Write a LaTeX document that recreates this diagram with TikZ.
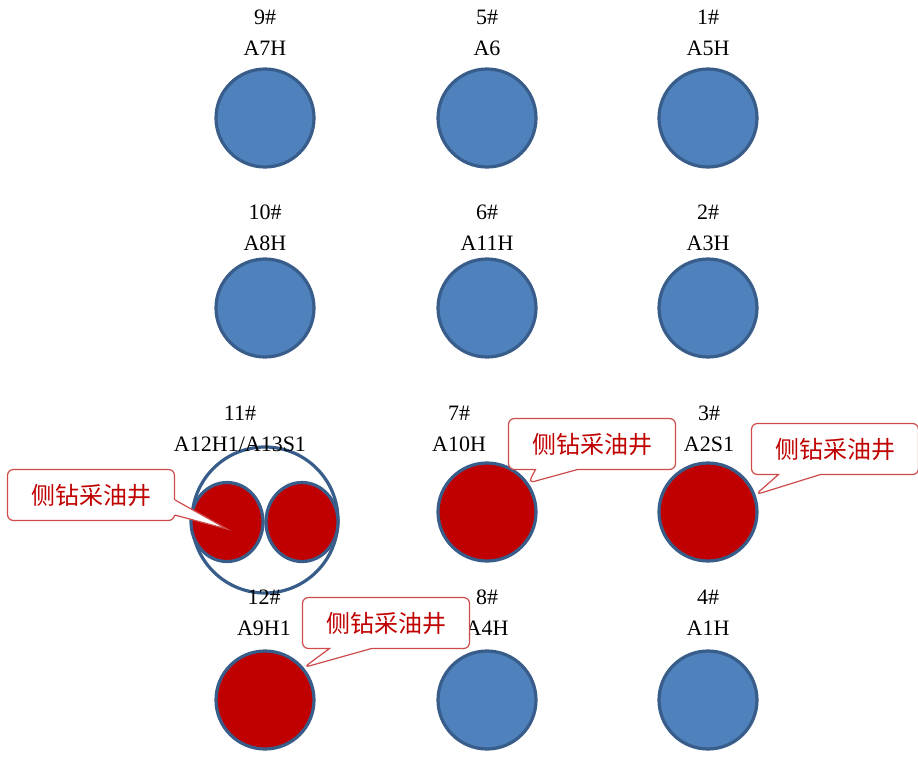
\documentclass[tikz,border=0pt]{standalone}
\usepackage{fontspec}
\setmainfont{Liberation Serif}
\newfontfamily\cjk{Noto Sans CJK SC}
\usetikzlibrary{shapes.geometric,shapes.callouts,calc}
\definecolor{wellblue}{RGB}{79,129,189}
\definecolor{welledge}{RGB}{56,93,138}
\definecolor{wellred}{RGB}{192,0,0}
\definecolor{noteedge}{RGB}{205,75,75}

\begin{document}
\begin{tikzpicture}[x=1pt, y=-1pt,
	well/.style={circle, draw=welledge, line width=3.2pt, minimum size=98pt, inner sep=0pt},
	prod/.style={well, fill=wellblue},
	side/.style={well, fill=wellred},
	twin/.style={ellipse, draw=welledge, fill=wellred, line width=3.2pt, minimum width=72pt, minimum height=79pt, inner sep=0pt},
	lbl/.style={font=\fontsize{22}{22}\selectfont, inner sep=0pt},
	notebox/.style={rectangle, draw=noteedge, fill=white, line width=1.2pt, rounded corners=6pt,
		text=wellred, font=\cjk\fontsize{24}{24}\selectfont, minimum width=167pt, minimum height=51pt},
	note/.style={notebox, rectangle callout, callout pointer width=42pt},
	notepin/.style={draw=noteedge, line width=1.2pt, line join=miter}]
			\useasboundingbox (0,0) rectangle (918,756);
			% wells
			\foreach \name/\x/\y in {w9/265/118, w5/487/118, w1/708/118, w10/265/308, w6/487/308, w2/708/308, w8/487/700, w4/708/700}
			\node[prod] (\name) at (\x,\y) {};
			\foreach \name/\x/\y in {w7/487/512, w3/708/512, w12/265/700}
			\node[side] (\name) at (\x,\y) {};
			\node[well, minimum size=146pt] (w11) at (265,520) {};
			\node[twin] (w11a) at (227,522) {};
			\node[twin] (w11b) at (302,522) {};
			% labels
			\foreach \name/\x/\y/\code in {9/265/17/A7H, 5/487/17/A6, 1/708/17/A5H,
				10/265/212/A8H, 6/487/212/A11H, 2/708/212/A3H,
				11/240/413/A12H1\slash A13S1, 7/459/413/A10H, 3/709/413/A2S1,
				12/264/597/A9H1, 8/487/597/A4H, 4/708/597/A1H}
			{
			\node[lbl] (n\name) at (\x,\y) {\name\#};
			\node[lbl] (c\name) at (\x,\y+31) {\code};
			}
			% callouts
			\node[notebox] (s11) at (91,495) {侧钻采油井};
			\coordinate (t11) at ($(w11a.center)+(0,7)$);
			\coordinate (a11) at ($(s11.east)+(0,5)$);
			\coordinate (b11) at ($(s11.south east)+(0,-6)$);
			\fill[white] ($(a11)+(-2,0)$) -- (a11) -- (t11) -- (b11) -- ($(b11)+(-2,0)$) -- cycle;
			\draw[notepin] (a11) -- (t11) -- (b11);
			\node[note, callout absolute pointer={(w7.35)}] (s7) at (592,444) {侧钻采油井};
			\node[note, callout absolute pointer={(w3.20)}] (s3) at (835,449) {侧钻采油井};
			\node[note, callout absolute pointer={(w12.40)}] (s12) at (386,623) {侧钻采油井};
		\end{tikzpicture}
\end{document}
